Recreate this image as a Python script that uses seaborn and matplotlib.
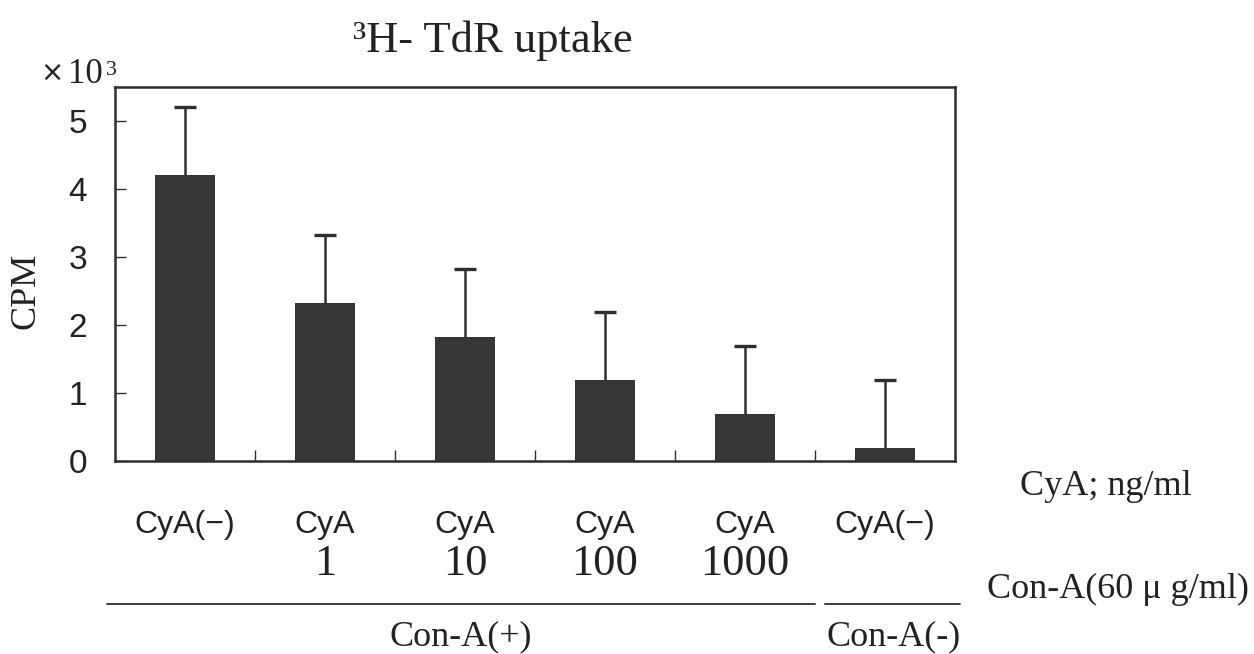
import matplotlib
matplotlib.use("Agg")
import matplotlib.pyplot as plt
import matplotlib.transforms as mtransforms
from matplotlib.lines import Line2D
import numpy as np
import pandas as pd
import seaborn as sns

# ---------------- data ----------------
cat_top = ["CyA(\u2212)", "CyA", "CyA", "CyA", "CyA", "CyA(\u2212)"]
cat_dose = ["", "1", "10", "100", "1000", ""]
values = [4.20, 2.33, 1.83, 1.19, 0.69, 0.19]      # CPM x 10^3
errors = [1.00, 1.00, 1.00, 1.00, 1.00, 1.00]
y_ticks = [0, 1, 2, 3, 4, 5]
group_labels = ["Con-A(+)", "Con-A(-)"]
title = "\u00b3H- TdR uptake"
y_label = "CPM"
side_label_1 = "CyA; ng/ml"
side_label_2 = "Con-A(60 \u03bc g/ml)"

# ---------------- style ----------------
W, H = 1254, 654
sns.set_theme(style="white")
SERIF = ["Liberation Serif", "DejaVu Serif"]
SANS = ["Liberation Sans Narrow", "Liberation Sans", "DejaVu Sans"]
plt.rcParams["font.family"] = SERIF
INK = "#2e2e2e"
BAR = "#363636"
TXT = "#222222"


def fx(px):
    return px / W


def fy(py):
    return 1 - py / H


fig = plt.figure(figsize=(W / 100, H / 100), dpi=100)
fig.patch.set_facecolor("white")
ax = fig.add_axes([fx(115), fy(461), fx(955) - fx(115), fy(87) - fy(461)])

df = pd.DataFrame({"pos": np.arange(len(values)), "cpm": values, "err": errors})
sns.barplot(data=df, x="pos", y="cpm", color=BAR, saturation=1, width=0.43,
            errorbar=None, edgecolor="none", ax=ax)
eb = ax.errorbar(df["pos"], df["cpm"], yerr=[np.zeros(len(df)), df["err"]], fmt="none",
                 ecolor=INK, elinewidth=1.8, capsize=7.8, capthick=2.4, zorder=3)
caps = eb[1]
if len(caps) >= 2:
    caps[0].set_visible(False)

ax.set_xlim(-0.5, len(values) - 0.5)
ax.set_ylim(0, 5.5)
ax.set_xlabel("")
ax.set_ylabel("")

for s in ax.spines.values():
    s.set_visible(True)
    s.set_linewidth(1.8)
    s.set_color(INK)

ax.set_yticks(y_ticks)
ax.set_yticklabels([str(t) for t in y_ticks], family=SANS, fontsize=24, color=TXT)
ax.tick_params(axis="y", direction="in", length=8, width=1.0, color=INK, pad=20, left=True)
ax.set_xticks(np.arange(len(values) - 1) + 0.5)
ax.set_xticklabels([])
ax.tick_params(axis="x", direction="in", length=8, width=1.0, color=INK, bottom=True)

# category labels
trans = mtransforms.blended_transform_factory(ax.transData, fig.transFigure)
for i, (t, d) in enumerate(zip(cat_top, cat_dose)):
    ax.text(i, fy(533), t, transform=trans, ha="center", va="baseline",
            family=SANS, fontsize=23, color=TXT)
    if d:
        ax.text(i, fy(575), d, transform=trans, ha="center", va="baseline",
                family=SERIF, fontsize=32, color=TXT)

# title and axis annotations
fig.text(fx(353), fy(52), title, ha="left", va="baseline", family=SERIF,
         fontsize=32, color=TXT)
fig.text(fx(40), fy(81), "\u00d7", ha="left", va="baseline", family=["DejaVu Sans"],
         fontsize=20, color=TXT)
fig.text(fx(68), fy(83), "10", ha="left", va="baseline", family=SERIF,
         fontsize=25, color=TXT)
fig.text(fx(106), fy(75), "3", ha="left", va="baseline", family=SERIF,
         fontsize=16, color=TXT)
fig.text(fx(26), fy(291), y_label, ha="center", va="center", rotation=90,
         family=SERIF, fontsize=26, color=TXT)

fig.text(fx(1020), fy(495), side_label_1, ha="left", va="baseline", family=SERIF,
         fontsize=26, color=TXT)
fig.text(fx(987), fy(598), side_label_2, ha="left", va="baseline", family=SERIF,
         fontsize=26, color=TXT)

# group lines
fig.add_artist(Line2D([fx(107), fx(815)], [fy(604), fy(604)], lw=1.3, color=INK))
fig.add_artist(Line2D([fx(825), fx(960)], [fy(604), fy(604)], lw=1.3, color=INK))
fig.text(fx(461), fy(645), group_labels[0], ha="center", va="baseline", family=SERIF,
         fontsize=26, color=TXT)
fig.text(fx(894), fy(645), group_labels[1], ha="center", va="baseline", family=SERIF,
         fontsize=26, color=TXT)

fig.savefig("out.png", dpi=100, facecolor="white")
